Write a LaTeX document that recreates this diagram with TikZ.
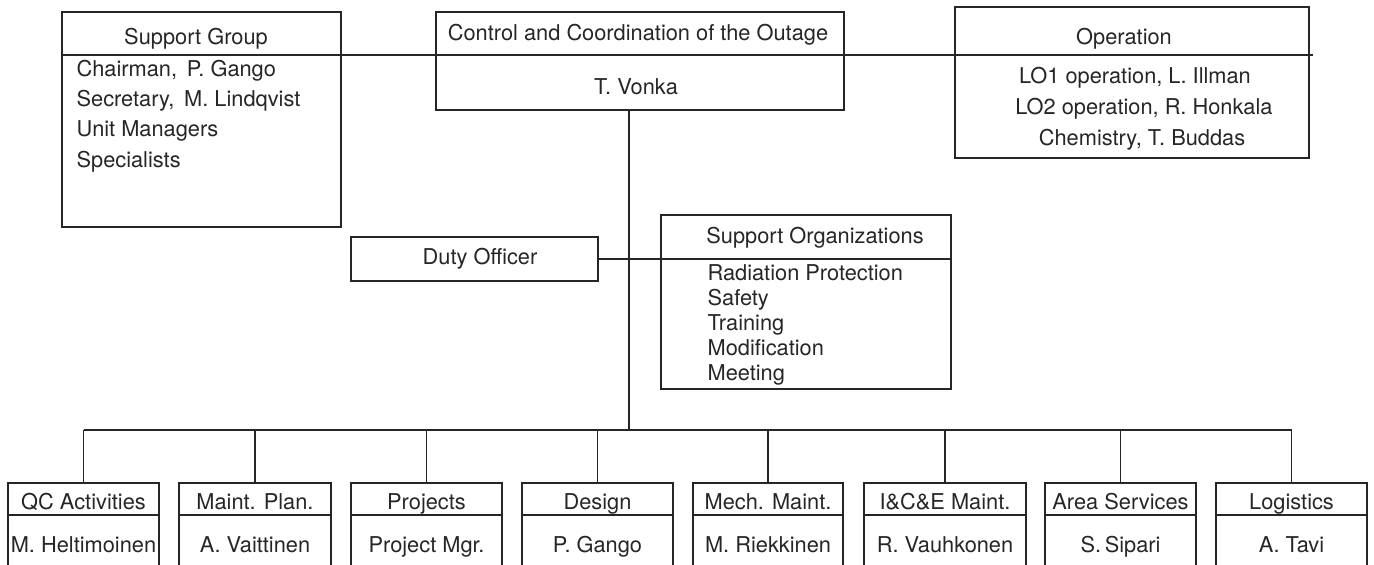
\documentclass[tikz,border=0pt]{standalone}
\usepackage{fontspec}
\setmainfont{TeX Gyre Heros}
\usetikzlibrary{fit,calc}
\definecolor{ink}{HTML}{262626}
\begin{document}
\begin{tikzpicture}[x=0.5pt,y=-0.5pt,line width=0.6pt,
  box/.style={draw=ink,inner sep=0pt},
  lbl/.style={inner sep=0pt,text=ink,anchor=base,font=\fontsize{10.9}{12}\selectfont},
  item/.style={lbl,anchor=base west},
  wire/.style={draw=ink}]
\useasboundingbox (0,0) rectangle (1374,564);
\clip (0,0) rectangle (1374,564);
% top boxes
\node[box,fit={(62,12) (341,227)}] (sg) {};
\node[box,fit={(436,12) (844,110)}] (cc) {};
\node[box,fit={(955,7) (1309,158)}] (op) {};
\coordinate (rend) at (1313,55);
\draw[wire] (sg.west |- rend) -- (rend);
\node[lbl] (sgt) at (196,44.5) {Support Group};
\node[item] (sg1) at (76,76.5) {Chairman,\, P. Gango};
\node[item] (sg2) at (76,106.5) {Secretary,\, M. Lindqvist};
\node[item] (sg3) at (76,136.5) {Unit Managers};
\node[item] (sg4) at (76,167.5) {Specialists};
\node[lbl] (cct) at (638,40.5) {Control and Coordination of the Outage};
\node[lbl] (ccn) at (636,94.5) {T. Vonka};
\node[lbl] (opt) at (1124,44.5) {Operation};
\node[lbl] (op1) at (1135,83.5) {LO1 operation, L. Illman};
\node[lbl] (op2) at (1144,114.5) {LO2 operation, R. Honkala};
\node[lbl] (op3) at (1142,145.5) {Chemistry, T. Buddas};
% middle
\node[box,fit={(351,237) (598,281)}] (do) {};
\node[lbl] (dot) at (480,264.5) {Duty Officer};
\node[box,fit={(661,215) (951,389)}] (so) {};
\draw[wire] (do.east) -- (so.east |- do.east);
\node[lbl] (sot) at (815,243.5) {Support Organizations};
\node[item] (so1) at (707,280.5) {Radiation Protection};
\node[item] (so2) at (707,305.5) {Safety};
\node[item] (so3) at (707,330.5) {Training};
\node[item] (so4) at (707,355.5) {Modification};
\node[item] (so5) at (707,380.5) {Meeting};
% trunk
\coordinate (vt) at (629,110);
\coordinate (bus) at (629,430);
\draw[wire] (vt) -- (bus);
\coordinate (dv) at (0,515);
% bottom boxes
\foreach \n/\xa/\xb/\t/\p in {1/8/159/QC Activities/M. Heltimoinen,
  2/179/331/Maint. Plan./A. Vaittinen,
  3/351/502/Projects/Project Mgr.,
  4/522/673/Design/P. Gango,
  5/693/843/Mech. Maint./M. Riekkinen,
  6/864/1026/I\&C\&E Maint./R. Vauhkonen,
  7/1045/1196/Area Services/S.\,Sipari,
  8/1216/1367/Logistics/A. Tavi}{
  \node[box,fit={(\xa,483) (\xb,600)}] (b\n) {};
  \draw[wire] (b\n.west |- dv) -- (b\n.east |- dv);
  \draw[wire] (b\n.north) -- (b\n.north |- bus);
  \node[lbl] (bt\n) at ($(b\n.north)+(0,27.5)$) {\t};
  \node[lbl] (bp\n) at ($(b\n.north)+(0,70.5)$) {\p};
}
\draw[wire] (b1.north |- bus) -- (b8.north |- bus);
\end{tikzpicture}
\end{document}
